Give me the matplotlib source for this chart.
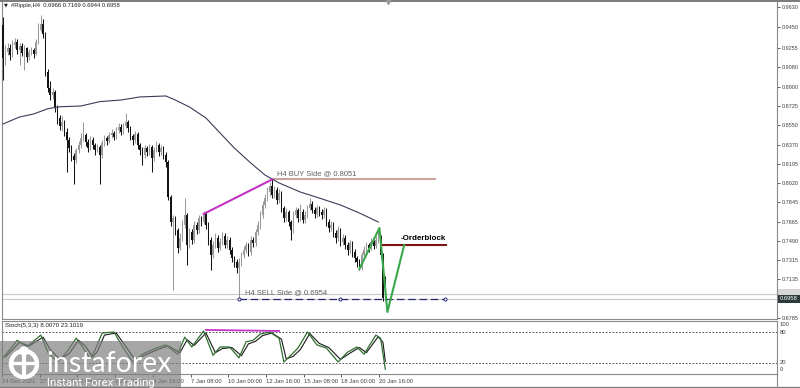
"""
plot.py

MT4-style H4 chart of #Ripple with SMA, trade levels, zigzag and a
Stochastic(5,3,3) pane underneath. Saves out.png (800x388).
"""

import numpy as np
import matplotlib.pyplot as plt
from matplotlib.patches import Rectangle, Circle


W, H = 800, 388
PX_STEP = 2.36          # pixels per H4 candle
FONT = ["Liberation Sans", "DejaVu Sans"]

BULL = "#9a9a9a"
BEAR = "#141414"
AXIS_C = "#8a8a8a"
TEXT_C = "#404040"

# ---------------------------------------------------------------- data
first_open = 0.9468

closes = [
    0.9165, 0.9220, 0.9257, 0.9193, 0.9284, 0.9312, 0.9238, 0.9275, 0.9211, 0.9257,
    0.9174, 0.9220, 0.9238, 0.9202, 0.9312, 0.9422, 0.9477, 0.9385, 0.9037, 0.8890,
    0.8826, 0.8853, 0.8707, 0.8615, 0.8542, 0.8578, 0.8487, 0.8413, 0.8340, 0.8266,
    0.8230, 0.8321, 0.8367, 0.8432, 0.8459, 0.8395, 0.8340, 0.8413, 0.8367, 0.8321,
    0.8349, 0.8276, 0.8386, 0.8432, 0.8404, 0.8459, 0.8477, 0.8441, 0.8505, 0.8532,
    0.8487, 0.8542, 0.8578, 0.8523, 0.8450, 0.8413, 0.8468, 0.8367, 0.8321, 0.8276,
    0.8340, 0.8303, 0.8349, 0.8248, 0.8321, 0.8367, 0.8303, 0.8340, 0.8276, 0.8211,
    0.7891, 0.7661, 0.7698, 0.7588, 0.7423, 0.7515, 0.7634, 0.7725, 0.7450, 0.7570,
    0.7496, 0.7634, 0.7588, 0.7698, 0.7661, 0.7735, 0.7634, 0.7496, 0.7359, 0.7450,
    0.7515, 0.7423, 0.7478, 0.7533, 0.7450, 0.7496, 0.7404, 0.7331, 0.7294, 0.7239,
    0.7294, 0.7359, 0.7404, 0.7450, 0.7386, 0.7496, 0.7469, 0.7570, 0.7634, 0.7725,
    0.7817, 0.7881, 0.7936, 0.7991, 0.7909, 0.7955, 0.7863, 0.7927, 0.7790, 0.7698,
    0.7753, 0.7661, 0.7588, 0.7725, 0.7771, 0.7698, 0.7753, 0.7680, 0.7725, 0.7790,
    0.7826, 0.7771, 0.7735, 0.7790, 0.7753, 0.7725, 0.7771, 0.7661, 0.7606, 0.7634,
    0.7560, 0.7515, 0.7588, 0.7478, 0.7515, 0.7450, 0.7404, 0.7469, 0.7386, 0.7331,
    0.7294, 0.7239, 0.7359, 0.7404, 0.7450, 0.7423, 0.7478, 0.7441, 0.7496, 0.7515,
    0.7359, 0.6966, 0.6958,
]

highs = [
    0.9541, 0.9284, 0.9300, 0.9290, 0.9330, 0.9345, 0.9340, 0.9305, 0.9300, 0.9280,
    0.9270, 0.9250, 0.9265, 0.9260, 0.9340, 0.9490, 0.9560, 0.9520, 0.9400, 0.9060,
    0.8950, 0.8890, 0.8870, 0.8730, 0.8640, 0.8630, 0.8600, 0.8520, 0.8440, 0.8370,
    0.8290, 0.8340, 0.8400, 0.8480, 0.8580, 0.8480, 0.8420, 0.8450, 0.8440, 0.8390,
    0.8380, 0.8370, 0.8410, 0.8460, 0.8450, 0.8490, 0.8510, 0.8500, 0.8530, 0.8570,
    0.8560, 0.8570, 0.8660, 0.8600, 0.8540, 0.8470, 0.8500, 0.8490, 0.8390, 0.8350,
    0.8370, 0.8360, 0.8380, 0.8370, 0.8350, 0.8400, 0.8390, 0.8370, 0.8360, 0.8300,
    0.8230, 0.7910, 0.7730, 0.7720, 0.7610, 0.7560, 0.7680, 0.7880, 0.7740, 0.7610,
    0.7600, 0.7670, 0.7660, 0.7730, 0.7720, 0.7760, 0.7750, 0.7660, 0.7520, 0.7490,
    0.7560, 0.7540, 0.7510, 0.7570, 0.7560, 0.7530, 0.7520, 0.7430, 0.7350, 0.7320,
    0.7330, 0.7390, 0.7440, 0.7480, 0.7470, 0.7530, 0.7520, 0.7600, 0.7670, 0.7760,
    0.7850, 0.7920, 0.7980, 0.8030, 0.8051, 0.7990, 0.7980, 0.7960, 0.7950, 0.7810,
    0.7790, 0.7770, 0.7680, 0.7760, 0.7800, 0.7790, 0.7830, 0.7780, 0.7760, 0.7820,
    0.7880, 0.7850, 0.7800, 0.7820, 0.7810, 0.7780, 0.7800, 0.7790, 0.7690, 0.7670,
    0.7660, 0.7590, 0.7620, 0.7610, 0.7550, 0.7540, 0.7480, 0.7500, 0.7490, 0.7410,
    0.7350, 0.7320, 0.7390, 0.7440, 0.7480, 0.7470, 0.7510, 0.7500, 0.7530, 0.7606,
    0.7540, 0.7380, 0.7169,
]

lows = [
    0.8963, 0.9101, 0.9190, 0.9147, 0.9170, 0.9260, 0.9200, 0.9101, 0.9180, 0.9055,
    0.9130, 0.9150, 0.9190, 0.9165, 0.9190, 0.9290, 0.9400, 0.9350, 0.9000, 0.8850,
    0.8780, 0.8790, 0.8670, 0.8560, 0.8505, 0.8500, 0.8450, 0.8120, 0.8300, 0.8220,
    0.8010, 0.8200, 0.8290, 0.8340, 0.8400, 0.8360, 0.8300, 0.8320, 0.8330, 0.8280,
    0.8300, 0.8010, 0.8250, 0.8360, 0.8370, 0.8390, 0.8430, 0.8410, 0.8420, 0.8480,
    0.8460, 0.8470, 0.8520, 0.8490, 0.8410, 0.8370, 0.8390, 0.8330, 0.8280, 0.8180,
    0.8250, 0.8270, 0.8280, 0.8120, 0.8220, 0.8300, 0.8270, 0.8280, 0.8240, 0.8170,
    0.7860, 0.7620, 0.7038, 0.7540, 0.7380, 0.7400, 0.7490, 0.7610, 0.7270, 0.7420,
    0.7460, 0.7470, 0.7550, 0.7560, 0.7620, 0.7640, 0.7600, 0.7450, 0.7221, 0.7330,
    0.7420, 0.7390, 0.7400, 0.7450, 0.7420, 0.7420, 0.7370, 0.7290, 0.7250, 0.7190,
    0.6954, 0.7260, 0.7330, 0.7380, 0.7350, 0.7360, 0.7430, 0.7440, 0.7540, 0.7600,
    0.7700, 0.7790, 0.7850, 0.7900, 0.7880, 0.7880, 0.7830, 0.7840, 0.7750, 0.7660,
    0.7670, 0.7620, 0.7496, 0.7560, 0.7700, 0.7660, 0.7670, 0.7650, 0.7650, 0.7700,
    0.7770, 0.7740, 0.7700, 0.7710, 0.7720, 0.7690, 0.7700, 0.7620, 0.7570, 0.7580,
    0.7520, 0.7470, 0.7490, 0.7440, 0.7450, 0.7410, 0.7360, 0.7380, 0.7340, 0.7290,
    0.7250, 0.7221, 0.7220, 0.7330, 0.7380, 0.7390, 0.7400, 0.7410, 0.7420, 0.7470,
    0.7330, 0.6940, 0.6944,
]

# moving average, read at a handful of bars
ma_idx = [0, 7, 13, 19, 24, 33, 41, 50, 58, 69, 73, 79, 86, 92, 98, 105, 111, 117, 126, 134, 143, 151, 159]
ma_val = [0.8560, 0.8624, 0.8652, 0.8700, 0.8718, 0.8725, 0.8765, 0.8780, 0.8808, 0.8817,
          0.8780, 0.8716, 0.8615, 0.8477, 0.8340, 0.8202, 0.8092, 0.8019, 0.7936, 0.7881,
          0.7817, 0.7744, 0.7661]

# stochastic main / signal lines
st_idx = [0, 6, 10, 16, 19, 23, 27, 31, 34, 37, 39, 42, 47, 51, 55, 59, 65, 69, 74, 77,
          80, 85, 89, 92, 96, 100, 103, 106, 109, 113, 117, 119, 122, 125, 129, 133, 137,
          142, 146, 150, 153, 158, 160, 162]
st_main = [30, 64, 51, 74, 41, 22, 41, 68, 49, 28, 45, 78, 80, 49, 22, 37, 49, 55, 37, 70,
           51, 82, 35, 51, 51, 30, 61, 64, 76, 80, 68, 22, 35, 49, 80, 55, 49,
           22, 41, 51, 37, 74, 68, 8.007]
sig_idx = [1, 7, 11, 17, 20, 24, 28, 32, 35, 38, 40, 43, 48, 52, 56, 60, 66, 70, 75, 78,
           81, 86, 90, 93, 97, 101, 104, 107, 110, 114, 118, 120, 123, 126, 130, 134, 138,
           143, 147, 151, 154, 159, 161, 162]
st_sig = [32, 60, 53, 70, 46, 27, 38, 64, 52, 32, 42, 74, 78, 52, 26, 35, 47, 53, 40, 65,
          54, 78, 40, 48, 50, 34, 57, 62, 73, 78, 66, 28, 33, 46, 77, 58, 50,
          27, 39, 50, 40, 71, 60, 23.1019]

price_ticks = [0.9630, 0.9450, 0.9255, 0.9080, 0.8900, 0.8725, 0.8550, 0.8370,
               0.8195, 0.8020, 0.7845, 0.7665, 0.7490, 0.7315, 0.7135, 0.6785]

time_idx = [-0.4, 15.5, 31.5, 47.5, 63.5, 79.5, 95.2, 111.3, 127.4, 143.4, 159.4]
time_labels = ["24 Dec 2021", "27 Dec 16:00", "30 Dec 08:00", "2 Jan 00:00", "4 Jan 16:00",
               "7 Jan 08:00", "10 Jan 00:00", "12 Jan 16:00", "15 Jan 08:00",
               "18 Jan 00:00", "20 Jan 16:00"]

buy_level = 0.8051
sell_level = 0.6954
orderblock = 0.7450
bid, ask = 0.6958, 0.7001

div_idx, div_val = [85, 114], [0.7735, 0.8051]          # magenta divergence (price)
st_div_idx, st_div_val = [86, 117], [84, 82]            # magenta divergence (stoch)
zz_idx = [151, 159.5, 162.9, 170]                         # green zigzag
zz_val = [0.7230, 0.7606, 0.6836, 0.7450]


def px_to_k(x):
    """Pixel column -> candle index."""
    return (x - 3) / PX_STEP


def draw_candles(ax, o, h, l, c):
    """Draw OHLC candles on ax (index on x)."""
    idx = np.arange(len(c))
    up = c >= o
    col = np.where(up, BULL, BEAR)
    ax.vlines(idx, l, h, colors=col, lw=0.75, zorder=3)
    body = np.maximum(np.abs(c - o), 0.0007)
    ax.bar(idx, body, bottom=np.minimum(o, c), width=0.62, color=col, lw=0, zorder=4)


plt.rcParams["font.family"] = FONT

fig = plt.figure(figsize=(W / 100, H / 100), dpi=100)
fig.patch.set_facecolor("white")

xl = (px_to_k(2), px_to_k(777))

# ---------------------------------------------------------------- main pane
ax = fig.add_axes([2 / W, 1 - 319 / H, 775 / W, 318 / H])
ax.set_xlim(*xl)
ax.set_ylim(0.9697 - 0.000917 * 319, 0.9697 - 0.000917 * 1)

c = np.array(closes)
o = np.r_[first_open, c[:-1]]
draw_candles(ax, o, np.array(highs), np.array(lows), c)

ax.plot(ma_idx, ma_val, color="#3c3c5a", lw=0.8, zorder=5)

ax.axhline(ask, color="#c8c8c8", lw=0.8, zorder=1)
ax.axhline(bid, color="#c8c8c8", lw=0.8, zorder=1)

ax.plot(div_idx, div_val, color="#c433c4", lw=1.5, zorder=6)

ax.plot([114, px_to_k(435)], [buy_level] * 2, color="#c9a39c", lw=1.5, zorder=2)
ax.text(px_to_k(277), buy_level + 0.0022, "H4 BUY Side @ 0.8051",
        fontsize=5.4, color="#606060", va="bottom", ha="left")

ax.plot([100, px_to_k(446)], [sell_level] * 2, color="#262670", lw=0.9,
        dashes=(6, 3), zorder=6)
ax.plot([100, 143, px_to_k(445)], [sell_level] * 3, ls="none", marker="o",
        ms=2.2, mfc="white", mec="#262670", mew=0.7, zorder=7)
ax.text(px_to_k(245), sell_level + 0.0022, "H4 SELL Side @ 0.6954",
        fontsize=5.4, color="#606060", va="bottom", ha="left")

ax.plot([160, px_to_k(446)], [orderblock] * 2, color="#7a1414", lw=1.5, zorder=6)
ax.text(px_to_k(401), orderblock + 0.0025, "-Orderblock", fontsize=5.8,
        fontweight="bold", color="black", va="bottom", ha="left")

ax.plot(zz_idx, zz_val, color="#3aa84a", lw=1.5, zorder=8)

ax.yaxis.tick_right()
ax.set_yticks(price_ticks)
ax.set_yticklabels([f"{v:.4f}" for v in price_ticks])
ax.tick_params(axis="y", labelsize=4.0, colors=TEXT_C, length=2, width=0.6, pad=1.2)
ax.set_xticks([])
ax.spines["top"].set_visible(False)
for side in ["left", "right", "bottom"]:
    ax.spines[side].set_color(AXIS_C)
    ax.spines[side].set_linewidth(0.8)

# ---------------------------------------------------------------- stochastic pane
ax_st = fig.add_axes([2 / W, 1 - 374 / H, 775 / W, 53 / H])
ax_st.set_xlim(*xl)
ax_st.set_ylim(20 - 11 / 0.517, 80 + 11 / 0.517)
ax_st.axhline(80, color="#333333", lw=0.6, ls=(0, (2, 2)))
ax_st.axhline(20, color="#333333", lw=0.6, ls=(0, (2, 2)))
ax_st.plot(sig_idx, st_sig, color="#1a1a1a", lw=0.8)
ax_st.plot(st_idx, st_main, color="#2f6e2f", lw=0.9)
ax_st.plot(st_div_idx, st_div_val, color="#c433c4", lw=1.3)

ax_st.set_yticks([])
ax_st.set_xticks(time_idx)
ax_st.set_xticklabels(time_labels)
for lab in ax_st.get_xticklabels():
    lab.set_horizontalalignment("left")
ax_st.tick_params(axis="x", labelsize=4.2, colors=TEXT_C, length=2, width=0.6, pad=1.5)
for side in ax_st.spines.values():
    side.set_color(AXIS_C)
    side.set_linewidth(0.8)

# ---------------------------------------------------------------- overlay (pixel coords)
ov = fig.add_axes([0, 0, 1, 1], zorder=20)
ov.set_xlim(0, W)
ov.set_ylim(H, 0)
ov.axis("off")
ov.patch.set_alpha(0)

ov.plot([0, W], [0.6, 0.6], color="#7a7a7a", lw=1.4)
ov.plot([388], [1.5], marker="v", ms=3, color="#9a9a9a")
ov.plot([0, W], [386.5, 386.5], color="#7a7a7a", lw=0.9)
ov.plot([777, 777], [374, 388], color=AXIS_C, lw=0.8)

ov.text(4, 5, "\u25bc", fontsize=3.6, color="#202020", va="center",
        family=["DejaVu Sans"])
ov.text(11, 5, "#Ripple,H4  0.6966 0.7169 0.6944 0.6958", fontsize=4.2,
        color="#202020", va="center")
ov.text(5, 326, "Stoch(5,3,3) 8.0070 23.1019", fontsize=4.4, color="#202020", va="center")

for val, y in [("100", 325), ("80", 332), ("20", 363), ("0", 369.5)]:
    ov.text(780, y, val, fontsize=4.2, color=TEXT_C, va="center")

# bid / ask price tags
ov.add_patch(Rectangle((778, 288.5), 22, 6, color="#d6d6d6", lw=0))
ov.add_patch(Rectangle((778, 294.5), 22, 8.5, color="#2c3a3a", lw=0))
ov.text(789, 299, "0.6958", fontsize=4.2, color="white", va="center", ha="center")

# watermark
ov.add_patch(Rectangle((0, 341), 181, 47, color="#7c7c7c", alpha=0.68, lw=0))
ov.add_patch(Circle((24, 364), 13, fill=False, ec="white", lw=3.2))
ov.add_patch(Circle((24, 351), 4, color="white"))
ov.plot([24, 24], [356, 376], color="white", lw=3)
ov.plot([13, 35], [363, 363], color="white", lw=2.4)
ov.text(46, 372, "instaforex", fontsize=20.5, color="white", va="baseline",
        family=["Lato", "DejaVu Sans"])
ov.text(47, 386, "Instant Forex Trading", fontsize=8.2, color="white", va="baseline",
        family=["Roboto", "DejaVu Sans"])

fig.savefig("out.png", dpi=100)
